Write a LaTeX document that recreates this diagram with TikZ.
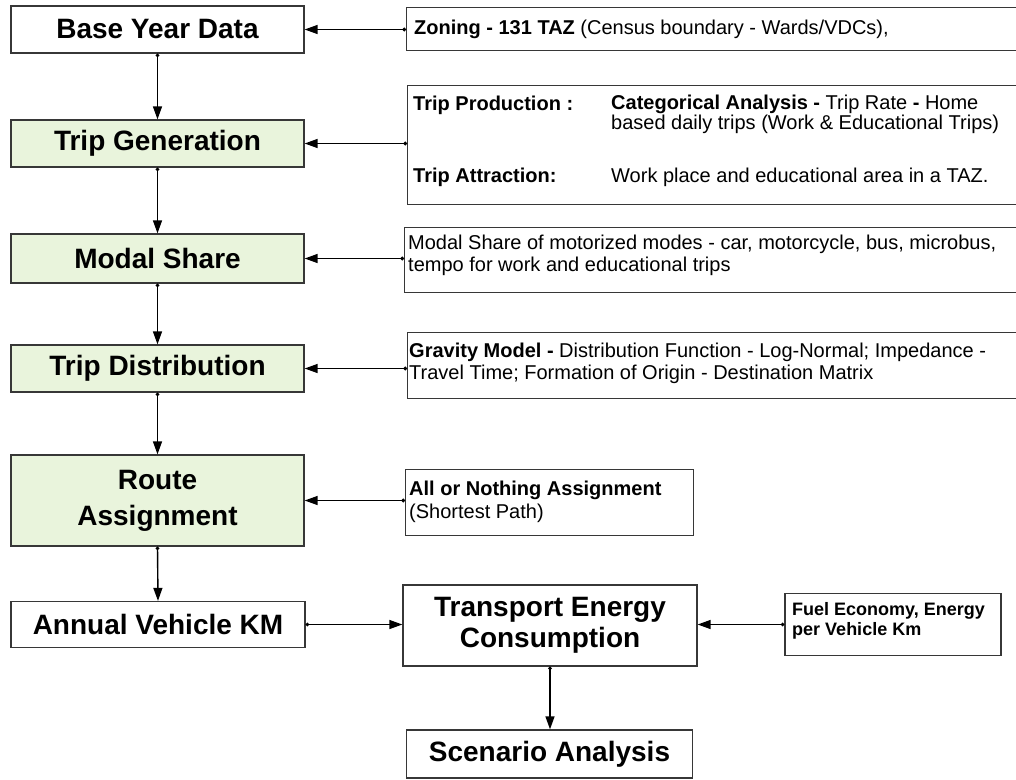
\documentclass[tikz,border=0pt]{standalone}
\usepackage{fontspec}
\setmainfont{Liberation Sans}
\usetikzlibrary{arrows.meta}
\definecolor{stepgreen}{RGB}{233,244,220}
\definecolor{edgegray}{RGB}{55,55,55}
\begin{document}
\begin{tikzpicture}[x=1pt,y=-1pt,
  mainbox/.style={draw=edgegray,line width=1.3pt,minimum width=293pt,align=center,inner sep=0pt,
    font=\fontsize{28}{36}\selectfont\bfseries},
  greenbox/.style={mainbox,fill=stepgreen},
  infobox/.style={draw=edgegray,line width=1.3pt,anchor=north west,inner sep=0pt},
  infotext/.style={anchor=west,inner sep=0pt,align=left,font=\fontsize{20}{22}\selectfont},
  flow/.style={line width=1.4pt,{Circle[length=3.5pt]}-{Triangle[length=13pt,width=9pt]}}]
\useasboundingbox (0,0) rectangle (1016,779);
\clip (0,0) rectangle (1016,779);

% left column
\node[mainbox,minimum height=47pt] (base) at (157.5,29.5) {Base Year Data};
\node[greenbox,minimum height=47pt] (tripgen) at (157.5,143.5) {Trip Generation};
\node[greenbox,minimum height=49pt] (modal) at (157.5,258.5) {Modal Share};
\node[greenbox,minimum height=47pt] (dist) at (157.5,368.5) {Trip Distribution};
\node[greenbox,minimum height=91pt] (route) at (157.5,500.5) {Route\\Assignment};
\node[mainbox,minimum height=46pt,minimum width=294pt] (annual) at (158,624.5) {Annual Vehicle KM};
\node[mainbox,minimum height=81pt,minimum width=294pt,font=\fontsize{28}{31}\selectfont\bfseries] (tec) at (550,625.5) {Transport Energy\\Consumption};
\node[mainbox,minimum height=48pt,minimum width=286pt] (scen) at (549.5,754) {Scenario Analysis};
\node[draw=edgegray,line width=1.3pt,minimum width=216pt,minimum height=62pt,inner sep=0pt] (fuel) at (893,624.5) {};
\node[infotext,font=\fontsize{18}{20}\selectfont\bfseries] (fueltxt) at (792,621) {Fuel Economy, Energy\\per Vehicle Km};

% right info boxes
\node[infobox,minimum width=614pt,minimum height=43pt] (zoning) at (406,7) {};
\node[infotext] (zoningtxt) at (414,29) {\textbf{Zoning - 131 TAZ} (Census boundary - Wards/VDCs),};

\node[infobox,minimum width=613pt,minimum height=119pt] (prod) at (407,85) {};
\node[infotext,font=\fontsize{20}{22}\selectfont\bfseries] (prodlbl) at (413,105) {Trip Production :};
\node[infotext,font=\fontsize{20}{20}\selectfont] (prodtxt) at (611,114.5) {\textbf{Categorical Analysis -} Trip Rate \textbf{-} Home\\based daily trips (Work \& Educational Trips)};
\node[infotext,font=\fontsize{20}{22}\selectfont\bfseries] (attrlbl) at (413,177) {Trip Attraction:};
\node[infotext] (attrtxt) at (611,177) {Work place and educational area in a TAZ.};

\node[infobox,minimum width=616pt,minimum height=65pt] (modalr) at (404,227) {};
\node[infotext] (modaltxt) at (408,255) {Modal Share of motorized modes - car, motorcycle, bus, microbus,\\tempo for work and educational trips};

\node[infobox,minimum width=613pt,minimum height=66pt] (grav) at (407,332) {};
\node[infotext] (gravtxt) at (409,363) {\textbf{Gravity Model -} Distribution Function - Log-Normal; Impedance -\\Travel Time; Formation of Origin - Destination Matrix};

\node[infobox,minimum width=288pt,minimum height=66pt] (aon) at (405,469) {};
\node[infotext,font=\fontsize{20}{23}\selectfont] (aontxt) at (409,502) {\textbf{All or Nothing Assignment}\\(Shortest Path)};

% connectors
\draw[flow] (base.south) -- (tripgen.north);
\draw[flow] (tripgen.south) -- (modal.north);
\draw[flow] (modal.south) -- (dist.north);
\draw[flow] (dist.south) -- (route.north);
\draw[flow] (route.south) -- (annual.north);
\draw[flow] (annual.east) -- (annual.east -| tec.west);
\draw[flow] (tec.south) -- (tec.south |- scen.north);
\draw[flow] (fuel.west) -- (fuel.west -| tec.east);

\draw[flow] (zoning.west |- base.east) -- (base.east);
\draw[flow] (prod.west |- tripgen.east) -- (tripgen.east);
\draw[flow] (modalr.west |- modal.east) -- (modal.east);
\draw[flow] (grav.west |- dist.east) -- (dist.east);
\draw[flow] (aon.west |- route.east) -- (route.east);
\end{tikzpicture}
\end{document}
